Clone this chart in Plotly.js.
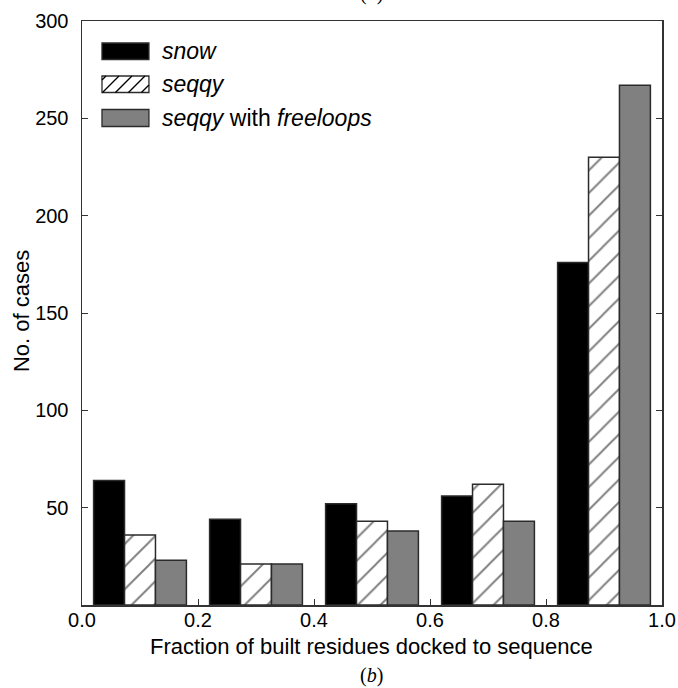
<!DOCTYPE html>
<html>
<head>
<meta charset="utf-8">
<script src="https://cdn.plot.ly/plotly-3.0.1.min.js"></script>
<style>
  html, body { margin: 0; padding: 0; background: #fff; }
  #chart { width: 678px; height: 688px; }
</style>
</head>
<body>
<div id="chart"></div>
<script>
// Bin centres of the docked-fraction histogram
const binCentres = [0.1, 0.3, 0.5, 0.7, 0.9];

// Number of cases per bin for each method
const snowCounts = [64, 44, 52, 56, 176];
const seqqyCounts = [36, 21, 43, 62, 230];
const freeloopsCounts = [23, 21, 38, 43, 267];

// Axis ticks
const xTicks = [0.0, 0.2, 0.4, 0.6, 0.8, 1.0];
const yTicks = [50, 100, 150, 200, 250, 300];

// Legend entries (HTML labels)
const legendLabels = ['<i>snow</i>', '<i>seqqy</i>', '<i>seqqy</i> with <i>freeloops</i>'];

const FONT = 'Liberation Sans, Arial, Helvetica, sans-serif';
const SERIF = 'Liberation Serif, Times New Roman, serif';
const OUTLINE = { color: '#2b2b2b', width: 1.5 };

const traces = [
  {
    type: 'bar', x: binCentres, y: snowCounts, name: 'snow',
    marker: { color: '#000000', line: OUTLINE }
  },
  {
    type: 'bar', x: binCentres, y: seqqyCounts, name: 'seqqy',
    marker: {
      color: '#ffffff', line: OUTLINE,
      pattern: { shape: '/', fgcolor: '#000000', bgcolor: '#ffffff', size: 16, solidity: 0.12, fillmode: 'overlay' }
    }
  },
  {
    type: 'bar', x: binCentres, y: freeloopsCounts, name: 'seqqy with freeloops',
    marker: { color: '#808080', line: OUTLINE }
  }
];

// Plot-area geometry in pixels, used to place the custom legend in paper units
const W = 678, H = 688;
const M = { l: 82, r: 15.5, t: 21, b: 83 };
const PW = W - M.l - M.r, PH = H - M.t - M.b;
const px = v => (v - M.l) / PW;
const py = v => 1 - (v - M.t) / PH;

// Legend swatches (pixel boxes) and label positions
const swatchX0 = 102, swatchX1 = 149;
const rows = [
  { y0: 43, y1: 59.5, fill: '#000000' },
  { y0: 76, y1: 92.5, fill: '#ffffff', hatch: true },
  { y0: 109.5, y1: 126.5, fill: '#808080' }
];

const shapes = [];
const annotations = [];

rows.forEach((r, i) => {
  shapes.push({
    type: 'rect', xref: 'paper', yref: 'paper',
    x0: px(swatchX0), x1: px(swatchX1), y0: py(r.y1), y1: py(r.y0),
    fillcolor: r.fill, line: { color: '#2b2b2b', width: 1.3 }
  });
  if (r.hatch) {
    // 45° hatch lines clipped to the swatch box
    const h = r.y1 - r.y0;
    let path = '';
    for (let start = swatchX0 - h + 4; start < swatchX1; start += 13) {
      let xa = start, ya = r.y1, xb = start + h, yb = r.y0;
      if (xa < swatchX0) { ya -= (swatchX0 - xa); xa = swatchX0; }
      if (xb > swatchX1) { yb += (xb - swatchX1); xb = swatchX1; }
      if (xb <= xa) continue;
      path += `M${px(xa)},${py(ya)} L${px(xb)},${py(yb)} `;
    }
    shapes.push({ type: 'path', xref: 'paper', yref: 'paper', path: path, line: { color: '#000000', width: 1.3 } });
  }
  annotations.push({
    xref: 'paper', yref: 'paper', x: px(160), y: py((r.y0 + r.y1) / 2),
    xanchor: 'left', yanchor: 'middle', showarrow: false,
    text: legendLabels[i], font: { family: FONT, size: 23, color: '#000' }
  });
});

// Axis titles
annotations.push({
  xref: 'paper', yref: 'paper', x: px(372), y: py(646), xanchor: 'center', yanchor: 'middle',
  showarrow: false, text: 'Fraction of built residues docked to sequence', font: { family: FONT, size: 22, color: '#000' }
});
annotations.push({
  xref: 'paper', yref: 'paper', x: px(21), y: py(311), xanchor: 'center', yanchor: 'middle',
  showarrow: false, textangle: -90, text: 'No. of cases', font: { family: FONT, size: 22, color: '#000' }
});

// Panel letters
annotations.push({
  xref: 'paper', yref: 'paper', x: px(372), y: py(675), xanchor: 'center', yanchor: 'middle',
  showarrow: false, text: '(<i>b</i>)', font: { family: SERIF, size: 20, color: '#000' }
});
annotations.push({
  xref: 'paper', yref: 'paper', x: px(372), y: py(-6), xanchor: 'center', yanchor: 'middle',
  showarrow: false, text: '(<i>a</i>)', font: { family: SERIF, size: 20, color: '#000' }
});

const layout = {
  width: W, height: H,
  margin: M,
  paper_bgcolor: '#ffffff', plot_bgcolor: '#ffffff',
  font: { family: FONT, size: 20, color: '#000' },
  showlegend: false,
  barmode: 'group', bargap: 0.2, bargroupgap: 0,
  xaxis: {
    range: [0, 1], tickvals: xTicks, tickformat: '.1f',
    ticks: 'inside', ticklen: 6, tickwidth: 1, tickcolor: '#333',
    showline: true, linecolor: '#333', linewidth: 1.5, mirror: true,
    showgrid: false, zeroline: false,
    tickfont: { family: FONT, size: 20 }, ticklabelstandoff: -4,
    automargin: false
  },
  yaxis: {
    range: [0, 300], tickvals: yTicks,
    ticks: 'inside', ticklen: 6, tickwidth: 1, tickcolor: '#333',
    showline: true, linecolor: '#333', linewidth: 1.5, mirror: 'ticks',
    showgrid: false, zeroline: false,
    tickfont: { family: FONT, size: 20 }, ticklabelstandoff: 8,
    automargin: false
  },
  shapes: shapes,
  annotations: annotations
};

Plotly.newPlot('chart', traces, layout, { staticPlot: true, displayModeBar: false });
</script>
</body>
</html>
